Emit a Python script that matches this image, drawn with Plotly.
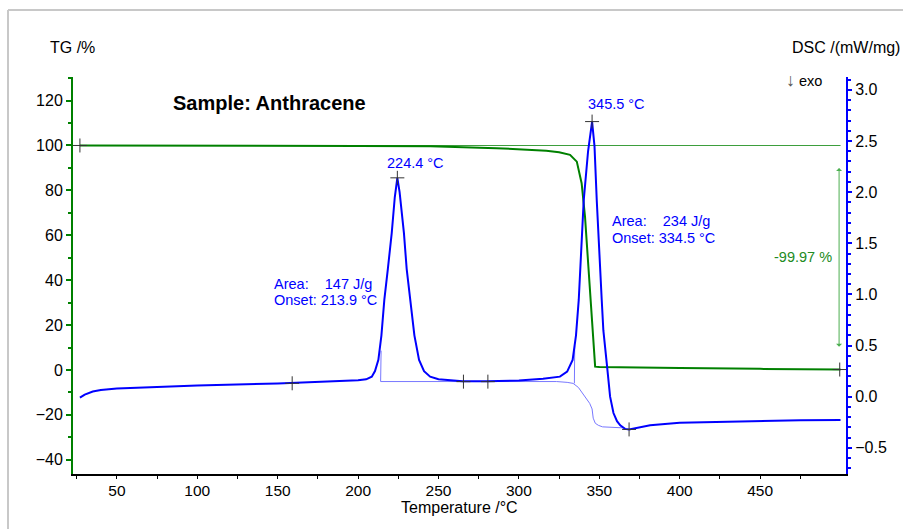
import plotly.graph_objects as go

# ---------------- data ----------------
T_tg = [27, 50, 100, 150, 200, 245, 286, 317, 325, 331.8, 336, 339, 341.1, 343.2, 345.3, 347.4, 350, 375, 400, 450, 500]
tg = [100, 100, 99.95, 99.9, 99.8, 99.6, 98.8, 97.7, 97.0, 95.8, 92.8, 83.2, 68.3, 46.0, 23.7, 1.5, 1.3, 1.2, 0.9, 0.5, 0.2]

T_ref = [27, 500]
tg_ref = [100, 100]

T_dsc = [27, 30, 35, 40, 50, 75, 100, 150, 180, 200, 205, 208.5, 210.5, 212.6, 214.5, 216.3, 218.5, 220.9,
         222.8, 224.4, 225.8, 228.5, 230.2, 232.3, 235, 237.9, 241, 244.8, 250, 265, 280, 300, 315, 325.5,
         330, 333.4, 335.5, 337.2, 340.3, 343, 345.5, 347, 348.4, 351.5, 352.5, 354.6, 356.7, 358.8, 361,
         363, 366, 368.5, 375, 381.6, 400, 425, 450, 475, 500]
dsc = [-0.01, 0.02, 0.05, 0.065, 0.08, 0.097, 0.11, 0.13, 0.145, 0.16, 0.17, 0.196, 0.25, 0.36, 0.6, 0.946, 1.25, 1.6,
       1.95, 2.14, 2.0, 1.6, 1.25, 0.946, 0.6, 0.36, 0.25, 0.196, 0.17, 0.152, 0.15, 0.158, 0.175, 0.196,
       0.245, 0.36, 0.6, 0.946, 1.92, 2.4, 2.69, 2.45, 1.92, 0.946, 0.65, 0.33, 0.0, -0.16, -0.24,
       -0.28, -0.315, -0.32, -0.3, -0.28, -0.254, -0.245, -0.235, -0.23, -0.228]

T_base = [214, 250, 300, 323.5, 330, 333.7, 337, 339.9, 342, 344, 345.5, 346.2, 347.5, 349.4, 352, 358, 365]
base = [0.148, 0.15, 0.15, 0.148, 0.14, 0.13, 0.09, 0.03, -0.02, -0.065, -0.12, -0.21, -0.26, -0.28, -0.295, -0.3, -0.305]

T_on1 = [214, 214.3]
on1 = [0.148, 0.45]
T_on2 = [334.5, 334.7]
on2 = [0.13, 0.5]

T_mk_tg = [27, 499.5]
mk_tg = [100, 0.2]
T_mk_dsc = [224.4, 345.5, 159, 265.5, 280.7, 368.5]
mk_dsc = [2.14, 2.69, 0.131, 0.147, 0.147, -0.32]

x_ticks = [50, 100, 150, 200, 250, 300, 350, 400, 450]
x_minor = [25, 75, 125, 175, 225, 275, 325, 375, 425, 475]

peak_labels = ["224.4 °C", "345.5 °C"]
area1 = "Area:\u00a0\u00a0\u00a0\u00a0147 J/g"
onset1 = "Onset: 213.9 °C"
area2 = "Area:\u00a0\u00a0\u00a0\u00a0234 J/g"
onset2 = "Onset: 334.5 °C"
mass_change = "-99.97 %"

# ---------------- styles ----------------
GREEN = "#008000"
BLUE = "#0000ff"
LBLUE = "#7878ff"
FONT = "Liberation Sans, Arial, sans-serif"
AFS = 14.5

L, R, TOP, BOT = 73, 846, 77, 474
def px(x):
    return (x - L) / (R - L)
def py(y):
    return (BOT - y) / (BOT - TOP)

fig = go.Figure()

fig.add_trace(go.Scatter(x=T_ref, y=tg_ref, mode="lines", line=dict(color="#3d9e3d", width=1.2), yaxis="y", hoverinfo="skip"))
fig.add_trace(go.Scatter(x=T_tg, y=tg, mode="lines", line=dict(color=GREEN, width=2), yaxis="y"))
fig.add_trace(go.Scatter(x=T_mk_tg, y=mk_tg, mode="markers",
                         marker=dict(symbol="cross-thin", size=10, line=dict(color="#333333", width=1)), yaxis="y"))

fig.add_trace(go.Scatter(x=T_base, y=base, mode="lines", line=dict(color=LBLUE, width=1), yaxis="y2"))
fig.add_trace(go.Scatter(x=T_on1, y=on1, mode="lines", line=dict(color=LBLUE, width=1), yaxis="y2"))
fig.add_trace(go.Scatter(x=T_on2, y=on2, mode="lines", line=dict(color=LBLUE, width=1), yaxis="y2"))
fig.add_trace(go.Scatter(x=T_dsc, y=dsc, mode="lines", line=dict(color=BLUE, width=2), yaxis="y2"))
fig.add_trace(go.Scatter(x=T_mk_dsc, y=mk_dsc, mode="markers",
                         marker=dict(symbol="cross-thin", size=10, line=dict(color="#333333", width=1)), yaxis="y2"))

ann = []
ann.append(dict(x=px(385), y=py(162.7), xref="paper", yref="paper", text=peak_labels[0], showarrow=False,
                xanchor="left", yanchor="middle", font=dict(color=BLUE, size=AFS, family=FONT)))
ann.append(dict(x=px(586), y=py(104), xref="paper", yref="paper", text=peak_labels[1], showarrow=False,
                xanchor="left", yanchor="middle", font=dict(color=BLUE, size=AFS, family=FONT)))
for txt, xx, yy in [(area1, 271.5, 283.7), (onset1, 271.5, 300.3), (area2, 610, 221), (onset2, 610, 237.6)]:
    ann.append(dict(x=px(xx), y=py(yy), xref="paper", yref="paper", text=txt, showarrow=False,
                    xanchor="left", yanchor="middle", font=dict(color=BLUE, size=AFS, family=FONT)))
ann.append(dict(x=px(834), y=py(256.7), xref="paper", yref="paper", text=mass_change, showarrow=False,
                xanchor="right", yanchor="middle", font=dict(color="#228b22", size=AFS, family=FONT)))
ann.append(dict(x=499.1, y=10.4, ax=499.1, ay=90.6, xref="x", yref="y", axref="x", ayref="y", text="",
                showarrow=True, arrowhead=1, startarrowhead=1, arrowside="end+start", arrowwidth=1,
                arrowsize=1, arrowcolor="#4caf50", standoff=0, startstandoff=0))
ann.append(dict(x=px(171), y=py(103), xref="paper", yref="paper", text="<b>Sample: Anthracene</b>", showarrow=False,
                xanchor="left", yanchor="middle", font=dict(color="black", size=20, family=FONT)))
ann.append(dict(x=px(72), y=py(47), xref="paper", yref="paper", text="TG /%", showarrow=False,
                xanchor="center", yanchor="middle", font=dict(color="black", size=16, family=FONT)))
ann.append(dict(x=px(790), y=py(47), xref="paper", yref="paper", text="DSC /(mW/mg)", showarrow=False,
                xanchor="left", yanchor="middle", font=dict(color="black", size=16, family=FONT)))
ann.append(dict(x=px(784), y=py(80), xref="paper", yref="paper",
                text="<span style='font-size:18px;color:#555555'>↓</span> exo", showarrow=False,
                xanchor="left", yanchor="middle", font=dict(color="black", size=AFS, family=FONT)))
ann.append(dict(x=px(459), y=py(507), xref="paper", yref="paper", text="Temperature /°C", showarrow=False,
                xanchor="center", yanchor="middle", font=dict(color="black", size=16, family=FONT)))

shapes = [
    dict(type="line", xref="paper", yref="paper", x0=px(8), x1=px(8), y0=py(10), y1=py(535),
         line=dict(color="#c8c8c8", width=2)),
    dict(type="line", xref="paper", yref="paper", x0=px(8), x1=px(910), y0=py(10), y1=py(10),
         line=dict(color="#c8c8c8", width=2)),
]

fig.update_layout(
    width=903, height=529, autosize=False,
    margin=dict(l=L, r=903 - R, t=TOP, b=529 - BOT, pad=0),
    paper_bgcolor="white", plot_bgcolor="white",
    showlegend=False,
    font=dict(family=FONT, size=16, color="black"),
    annotations=ann, shapes=shapes,
    xaxis=dict(range=[22.7, 503.4], tickmode="array", tickvals=x_ticks, showgrid=False, zeroline=False,
               showline=True, linecolor="black", linewidth=2, ticks="outside", ticklen=3, tickwidth=1,
               tickcolor="black", tickfont=dict(size=15.5), ticklabelstandoff=-2,
               minor=dict(tickmode="array", tickvals=x_minor, ticks="outside", ticklen=3,
                          tickcolor="black", tickwidth=1)),
    yaxis=dict(range=[-46.33, 130.5], tick0=0, dtick=20, showgrid=False, zeroline=False,
               showline=True, linecolor=GREEN, linewidth=2, ticks="outside", ticklen=5, tickwidth=1.5,
               tickcolor=GREEN, tickfont=dict(size=16),
               minor=dict(dtick=10, tick0=0, ticks="outside", ticklen=3, tickcolor=GREEN, tickwidth=1.5)),
    yaxis2=dict(range=[-0.756, 3.126], tick0=0, dtick=0.5, tickformat=".1f", showgrid=False, zeroline=False,
                overlaying="y", side="right", anchor="x",
                showline=True, linecolor=BLUE, linewidth=2, ticks="outside", ticklen=4, tickwidth=1.5,
                tickcolor=BLUE, tickfont=dict(size=16),
                minor=dict(dtick=0.1, tick0=0, ticks="outside", ticklen=3, tickcolor=BLUE, tickwidth=1.5)),
)

fig.write_html("out.html")
